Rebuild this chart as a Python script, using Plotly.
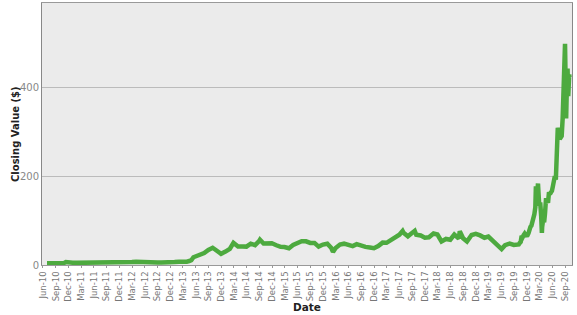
import plotly.graph_objects as go

# Monthly closes (split-adjusted), Jun 2010 - Sep 2019
monthly_dates = [
    "2010-06-30","2010-07-30","2010-08-31","2010-09-30","2010-10-29","2010-11-12","2010-11-30","2010-12-31",
    "2011-01-31","2011-02-28","2011-03-31","2011-04-29","2011-05-31","2011-06-30","2011-07-29","2011-08-31",
    "2011-09-30","2011-10-31","2011-11-30","2011-12-30",
    "2012-01-31","2012-02-29","2012-03-30","2012-04-30","2012-05-31","2012-06-29","2012-07-31","2012-08-31",
    "2012-09-28","2012-10-31","2012-11-30","2012-12-31",
    "2013-01-31","2013-02-28","2013-03-28","2013-04-15","2013-04-30","2013-05-15","2013-05-31","2013-06-28",
    "2013-07-31","2013-08-30","2013-09-30","2013-10-15","2013-10-31","2013-11-29","2013-12-31",
    "2014-01-31","2014-02-26","2014-03-31","2014-04-30","2014-05-30","2014-06-30","2014-07-31","2014-08-29",
    "2014-09-04","2014-09-30","2014-10-31","2014-11-28","2014-12-31",
    "2015-01-30","2015-02-27","2015-03-31","2015-04-30","2015-05-29","2015-06-30","2015-07-31","2015-08-31",
    "2015-09-30","2015-10-30","2015-11-30","2015-12-31",
    "2016-01-29","2016-02-10","2016-02-29","2016-03-31","2016-04-29","2016-05-31","2016-06-30","2016-07-29",
    "2016-08-31","2016-09-30","2016-10-31","2016-11-30","2016-12-30",
    "2017-01-31","2017-02-28","2017-03-31","2017-04-28","2017-05-31","2017-06-23","2017-06-30","2017-07-31",
    "2017-08-31","2017-09-18","2017-09-29","2017-10-31","2017-11-30","2017-12-29",
    "2018-01-31","2018-02-28","2018-03-29","2018-04-30","2018-05-31","2018-06-29","2018-07-31","2018-08-07",
    "2018-08-31","2018-09-28","2018-10-31","2018-11-30","2018-12-31",
    "2019-01-31","2019-02-28","2019-03-29","2019-04-30","2019-05-31","2019-06-03","2019-06-28","2019-07-31",
    "2019-08-30","2019-09-30",
]
monthly_close = [
    4.0, 4.0, 3.9, 4.1, 4.3, 6.9, 7.0, 5.3,
    4.8, 4.8, 5.5, 5.4, 5.8, 5.8, 5.6, 4.9,
    4.9, 5.9, 6.5, 5.7,
    5.7, 6.7, 7.4, 6.6, 5.9, 6.3, 5.6, 5.6,
    5.9, 5.6, 6.8, 6.8,
    7.5, 7.0, 7.6, 9.0, 10.8, 17.5, 19.5, 21.5,
    26.9, 33.8, 38.7, 35.5, 31.9, 25.3, 30.1,
    36.3, 50.0, 41.7, 41.5, 41.4, 48.0, 44.7, 53.9,
    57.0, 48.5, 48.3, 48.9, 44.5,
    40.8, 40.6, 37.8, 45.1, 50.0, 53.7, 53.3, 49.8,
    49.7, 41.4, 46.1, 48.0,
    38.3, 29.6, 38.3, 46.0, 48.0, 44.7, 42.5, 46.9,
    42.3, 40.8, 39.5, 37.9, 42.7,
    50.4, 50.0, 55.7, 62.9, 68.2, 76.6, 72.3, 64.7,
    71.0, 77.0, 68.2, 66.4, 61.6, 62.3,
    70.9, 68.6, 53.2, 58.7, 56.9, 68.6, 59.8, 75.9,
    60.3, 52.9, 67.5, 70.1, 66.6,
    61.4, 63.9, 56.0, 47.7, 37.0, 35.8, 44.7, 48.3,
    45.1, 48.2,
]

# Weekly-ish closes, Oct 2019 - Oct 2020
weekly_dates = [
    "2019-10-04","2019-10-11","2019-10-18","2019-10-25","2019-11-01","2019-11-08","2019-11-15","2019-11-22",
    "2019-11-29","2019-12-06","2019-12-13","2019-12-20","2019-12-27",
    "2020-01-03","2020-01-10","2020-01-17","2020-01-24","2020-01-31","2020-02-04","2020-02-07","2020-02-14",
    "2020-02-19","2020-02-28","2020-03-06","2020-03-13","2020-03-18","2020-03-20","2020-03-27","2020-04-03",
    "2020-04-09","2020-04-17","2020-04-24","2020-05-01","2020-05-08","2020-05-15","2020-05-22","2020-05-29",
    "2020-06-05","2020-06-12","2020-06-19","2020-06-26","2020-07-02","2020-07-10","2020-07-13","2020-07-17",
    "2020-07-24","2020-07-31","2020-08-07","2020-08-14","2020-08-21","2020-08-28","2020-08-31","2020-09-04",
    "2020-09-08","2020-09-11","2020-09-18","2020-09-23","2020-09-30","2020-10-02",
]
weekly_close = [
    46.3, 49.7, 52.1, 65.6, 62.6, 67.1, 70.4, 66.6,
    65.9, 67.2, 71.9, 81.1, 86.1,
    88.6, 95.6, 102.1, 113.9, 130.1, 177.4, 149.0, 160.0,
    183.5, 133.6, 140.7, 109.3, 72.2, 85.5, 102.9, 96.0,
    114.6, 150.8, 145.0, 140.3, 163.9, 159.8, 163.4, 167.0,
    177.6, 187.1, 200.2, 191.9, 241.7, 308.9, 299.4, 300.2,
    283.4, 286.2, 290.5, 330.1, 409.0, 442.7, 498.3, 418.3,
    330.2, 372.7, 442.2, 380.4, 429.0, 423.0,
]

dates = monthly_dates + weekly_dates
closes = monthly_close + weekly_close

fig = go.Figure(go.Scatter(
    x=dates, y=closes, mode="lines",
    line=dict(color="#4DAA3F", width=4.5),
))

font_family = "DejaVu Sans, Verdana, sans-serif"
fig.update_layout(
    width=577, height=315,
    margin=dict(l=42, r=5, t=3, b=50),
    plot_bgcolor="#EBEBEB",
    paper_bgcolor="white",
    showlegend=False,
    font=dict(family=font_family, size=10, color="#888888"),
    annotations=[
        dict(text="<b>Closing Value ($)</b>", xref="paper", yref="paper",
             x=0, y=0.5, xanchor="center", yanchor="middle", xshift=-27,
             textangle=-90, showarrow=False,
             font=dict(family=font_family, size=10, color="#222222")),
        dict(text="<b>Date</b>", xref="paper", yref="paper",
             x=0.5, y=0, xanchor="center", yanchor="middle", yshift=-42,
             showarrow=False,
             font=dict(family=font_family, size=10.5, color="#222222")),
    ],
)
fig.update_xaxes(
    automargin=False,
    range=["2010-05-25", "2020-10-20"],
    tickformat="%b-%y", dtick="M3", tick0="2010-06-01",
    tickangle=-90, tickfont=dict(size=8.5, color="#777777"),
    showgrid=False, showline=True, linecolor="#999999", linewidth=1, mirror=True,
    ticks="outside", ticklen=2, tickcolor="#999999",
)
fig.update_yaxes(
    automargin=False,
    range=[0, 590], tickvals=[0, 200, 400],
    tickfont=dict(size=10, color="#888888"),
    showgrid=True, gridcolor="#BBBBBB", gridwidth=1,
    showline=True, linecolor="#888888", linewidth=1, mirror=True,
    zeroline=False, ticks="",
)

fig.write_html("out.html")
